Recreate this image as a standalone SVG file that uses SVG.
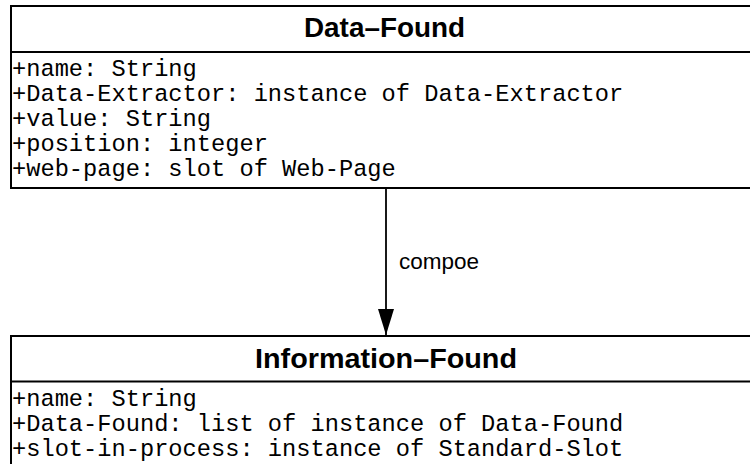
<svg xmlns="http://www.w3.org/2000/svg" width="750" height="464" viewBox="0 0 750 464">
<defs>
<style>
.box{fill:#fff;stroke:#000;stroke-width:2}
.sep{stroke:#000;stroke-width:2}
.title{font-family:"Liberation Sans",Arial,sans-serif;font-weight:bold;font-size:27px;fill:#000}
.attr{font-family:"Liberation Mono","Courier New",monospace;font-size:23.7px;fill:#000}
.lbl{font-family:"Liberation Sans",Arial,sans-serif;font-size:22.5px;fill:#000}
.conn{stroke:#000;stroke-width:1.8;fill:none}
</style>
<marker id="arrow" markerUnits="userSpaceOnUse" markerWidth="26" markerHeight="16" refX="26" refY="8" orient="auto" viewBox="0 0 26 16">
<path d="M0,0 L26,8 L0,16 Z" fill="#000"/>
</marker>
</defs>
<rect width="750" height="464" fill="#fff"/>
<g id="connectors">
<line class="conn" x1="386" y1="188" x2="386" y2="335" marker-end="url(#arrow)"/>
<text class="lbl" x="399" y="269">compoe</text>
</g>
<g id="data-found">
<rect class="box" x="11" y="6" width="760" height="182"/>
<line class="sep" x1="11" y1="52" x2="771" y2="52"/>
<text class="title" x="384.5" y="37" text-anchor="middle" textLength="161" lengthAdjust="spacingAndGlyphs">Data–Found</text>
<text class="attr" x="12" y="76">+name: String</text>
<text class="attr" x="12" y="101">+Data-Extractor: instance of Data-Extractor</text>
<text class="attr" x="12" y="126">+value: String</text>
<text class="attr" x="12" y="151">+position: integer</text>
<text class="attr" x="12" y="176">+web-page: slot of Web-Page</text>
</g>
<g id="information-found">
<rect class="box" x="11" y="336" width="760" height="140"/>
<line class="sep" x1="11" y1="381.5" x2="771" y2="381.5"/>
<text class="title" x="386" y="368" text-anchor="middle" textLength="262" lengthAdjust="spacingAndGlyphs">Information–Found</text>
<text class="attr" x="12" y="406">+name: String</text>
<text class="attr" x="12" y="431">+Data-Found: list of instance of Data-Found</text>
<text class="attr" x="12" y="456">+slot-in-process: instance of Standard-Slot</text>
</g>
</svg>
